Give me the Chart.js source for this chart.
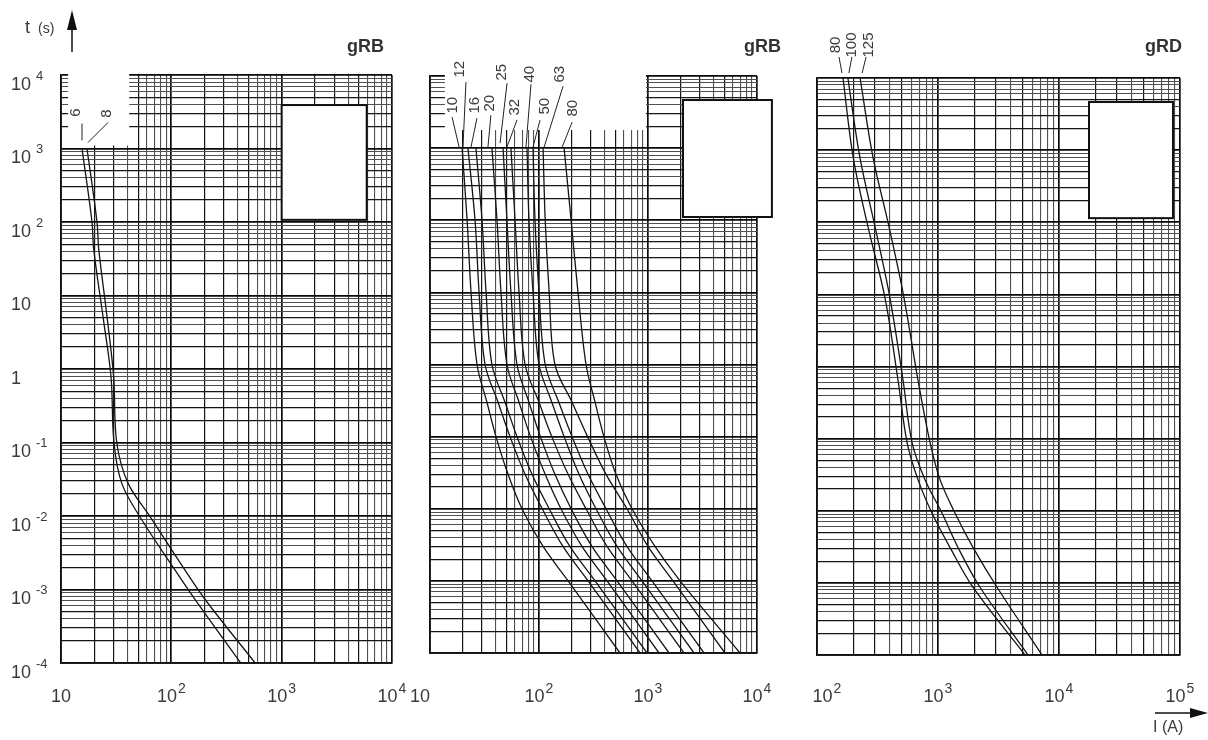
<!DOCTYPE html>
<html><head><meta charset="utf-8">
<script src="https://cdn.jsdelivr.net/npm/chart.js@4/dist/chart.umd.min.js"></script>
<style>
html,body{margin:0;padding:0;background:#fff;}
#wrap{position:relative;width:1208px;height:740px;overflow:hidden;background:#fff;}
#wrap canvas{position:absolute;left:0;top:0;}
</style></head><body>
<div id="wrap">
<canvas id="c1" width="1208" height="740"></canvas>
<canvas id="c2" width="1208" height="740"></canvas>
<canvas id="c3" width="1208" height="740"></canvas>
</div>
<script>
// ---------- DATA (current in A, time in s) ----------
const yTickValues = [10000, 1000, 100, 10, 1, 0.1, 0.01, 0.001, 0.0001];
const p1XTickValues = [10, 100, 1000, 10000];
const p2XTickValues = [10, 100, 1000, 10000];
const p3XTickValues = [100, 1000, 10000, 100000];

// panel 1 : gRB 6 A, 8 A
const p1Times = [1000, 100, 42, 5, 0.78, 0.1, 0.028, 0.0097, 0.002, 0.00072, 0.0001];
const p1Names = ['6', '8'];
const gRB_6  = [15.5, 19.1, 19.8, 24.1, 28.4, 30.2, 35.5, 52, 104, 165, 425];
const gRB_8  = [17.2, 21.2, 22.0, 26.2, 30.0, 32.0, 40.5, 64.4, 128, 204, 575];

// panel 2 : gRB 10 ... 80 A
const p2Times = [1000, 100, 10, 1, 0.3, 0.1, 0.03, 0.01, 0.003, 0.001, 0.0001];
const p2Names = ['10', '12', '16', '20', '25', '32', '40', '50', '63', '80'];
const gRB_10 = [19.7, 21.9, 23.8, 27.0, 33.3, 40.3, 52.0, 69.8, 109, 185, 553];
const gRB_12 = [22.3, 25.9, 28.2, 32.0, 42.1, 54.2, 74.5, 107, 166, 282, 845];
const gRB_16 = [26.4, 30.0, 32.7, 37.0, 48.8, 62.8, 86.3, 124, 192, 327, 979];
const gRB_20 = [37.0, 41.2, 44.8, 50.8, 65.6, 83.6, 114, 159, 248, 421, 1262];
const gRB_25 = [46.8, 50.8, 55.3, 62.8, 80.9, 103, 140, 197, 306, 520, 1560];
const gRB_32 = [55.3, 60.3, 65.6, 74.5, 100, 131, 185, 270, 421, 713, 2138];
const gRB_40 = [77.6, 80.9, 88.1, 100, 131, 170, 233, 333, 520, 881, 2642];
const gRB_50 = [88.1, 91.9, 100, 114, 152, 201, 282, 412, 641, 1089, 3266];
const gRB_63 = [109, 114, 124, 140, 201, 279, 412, 641, 1000, 1694, 5083];
const gRB_80 = [170, 197, 228, 270, 327, 394, 508, 713, 1159, 1968, 6982];

// panel 3 : gRD 80, 100, 125 A
const p3Times = [10000, 800, 86, 8.9, 0.65, 0.089, 0.027, 0.0093, 0.0031, 0.00087, 0.0001];
const p3Names = ['80', '100', '125'];
const gRD_80  = [164, 199, 264, 365, 467, 555, 683, 891, 1256, 1945, 5236];
const gRD_100 = [180, 226, 302, 401, 514, 610, 781, 1079, 1463, 2224, 5546];
const gRD_125 = [227, 290, 394, 524, 683, 859, 1040, 1381, 1945, 3074, 7244];

// ---------- helpers ----------
const TXT = '#3a3a3a';
const FONT = '"Liberation Sans", Arial, sans-serif';

function decadeTicks(min, max) {
  const out = [];
  const e0 = Math.floor(Math.log10(min) + 1e-9), e1 = Math.ceil(Math.log10(max) - 1e-9);
  for (let e = e0; e <= e1; e++) {
    for (let m = 1; m <= 9; m++) {
      const v = parseFloat((m * Math.pow(10, e)).toPrecision(10));
      if (v >= min * 0.9999 && v <= max * 1.0001) out.push(v);
    }
  }
  return out;
}
function sig(v) {
  const e = Math.floor(Math.log10(v) + 1e-9);
  return Math.round(v / Math.pow(10, e));
}
function gridColor(ctx) {
  if (!ctx.tick) return '#222';
  const m = sig(ctx.tick.value);
  if (m === 1) return '#0a0a0a';
  if (m === 2 || m === 3 || m === 5) return '#151515';
  return '#505050';
}
function gridWidth(ctx) {
  if (!ctx.tick) return 1;
  const m = sig(ctx.tick.value);
  return m === 1 ? 1.7 : (m === 2 || m === 3 || m === 5) ? 1.2 : 1.1;
}
function logAxis(min, max) {
  return {
    type: 'logarithmic', min: min, max: max,
    border: { display: true, color: '#111', width: 1.7 },
    grid: { drawTicks: false, color: gridColor, lineWidth: gridWidth },
    ticks: { display: false, autoSkip: false },
    afterBuildTicks: function (axis) { axis.ticks = decadeTicks(min, max).map(v => ({ value: v })); }
  };
}
function drawPow(ctx, v, x, y, align, gap, mainSize, supSize, rise) {
  const e = Math.round(Math.log10(v));
  ctx.fillStyle = TXT;
  ctx.textBaseline = 'middle';
  ctx.textAlign = 'left';
  ctx.font = mainSize + 'px ' + FONT;
  if (e === 0 || e === 1) {
    const s = e === 0 ? '1' : '10';
    const w = ctx.measureText(s).width;
    const x0 = align === 'center' ? x - w / 2 : x;
    ctx.fillText(s, x0, y);
    return;
  }
  const wb = ctx.measureText('10').width;
  ctx.font = supSize + 'px ' + FONT;
  const es = String(e);
  const we = ctx.measureText(es).width;
  const total = wb + gap + we;
  const x0 = align === 'center' ? x - total / 2 : x;
  ctx.font = mainSize + 'px ' + FONT;
  ctx.fillText('10', x0, y);
  ctx.font = supSize + 'px ' + FONT;
  ctx.fillText(es, x0 + wb + gap, y - rise);
}

function makePanel(id, geom, xMin, xMax, times, names, series, deco) {
  const datasets = series.map((vals, k) => ({
    label: names[k],
    data: vals.map((v, i) => ({ x: v, y: times[i] })),
    borderColor: '#151515', borderWidth: 1.3, pointRadius: 0, fill: false,
    tension: 0.35
  }));
  const decoPlugin = {
    id: 'deco_' + id,
    beforeDatasetsDraw(chart) {
      const c = chart.ctx, xs = chart.scales.x, ys = chart.scales.y;
      c.save();
      (deco.blanks || []).forEach(b => {
        const x1 = xs.getPixelForValue(b.x0), x2 = xs.getPixelForValue(b.x1);
        const y1 = ys.getPixelForValue(b.y0), y2 = ys.getPixelForValue(b.y1);
        c.fillStyle = '#fff';
        c.fillRect(x1, y1, x2 - x1, y2 - y1);
        if (b.border) {
          c.strokeStyle = '#111'; c.lineWidth = 2;
          c.strokeRect(x1, y1, x2 - x1, y2 - y1);
        }
      });
      c.restore();
    },
    afterDraw(chart) {
      const c = chart.ctx, xs = chart.scales.x, ys = chart.scales.y;
      c.save();
      deco.xTicks.forEach(v => drawPow(c, v, xs.getPixelForValue(v) + (deco.xShift || 0) * (v === xMin ? 1 : 0), 697, 'center', 1, 18, 14, 8));
      if (deco.yTicks) deco.yTicks.forEach(v => drawPow(c, v, 11, ys.getPixelForValue(v) + 10, 'left', 5, 18, 13, 9));
      c.fillStyle = '#333'; c.font = 'bold 18px ' + FONT; c.textAlign = 'right'; c.textBaseline = 'middle';
      c.fillText(deco.title, deco.titleX, 47);
      c.strokeStyle = '#222'; c.lineWidth = 1;
      c.font = '15px ' + FONT; c.fillStyle = TXT;
      deco.labels.forEach((L, k) => {
        const p = chart.getDatasetMeta(k).data[0];
        c.beginPath();
        c.moveTo(p.x + L[0], p.y + L[1]);
        c.lineTo(p.x + L[2], p.y + L[3]);
        c.stroke();
        c.save();
        c.translate(p.x + L[4], p.y + L[5]);
        c.rotate(-Math.PI / 2);
        c.textAlign = 'center'; c.textBaseline = 'middle';
        c.fillText(names[k], 0, 0);
        c.restore();
      });
      if (deco.extra) deco.extra(c);
      c.restore();
    }
  };
  return new Chart(document.getElementById(id), {
    type: 'line',
    data: { datasets: datasets },
    options: {
      responsive: false, animation: false, devicePixelRatio: 1, events: [],
      layout: { padding: { left: geom.l, top: geom.t, right: 1208 - geom.r, bottom: 740 - geom.b } },
      plugins: { legend: { display: false }, tooltip: { enabled: false } },
      scales: { x: logAxis(xMin, xMax), y: logAxis(0.0001, 10000) }
    },
    plugins: [decoPlugin]
  });
}

// ---------- panel 1 ----------
makePanel('c1', { l: 61, t: 75, r: 392, b: 663 }, 10, 10000, p1Times, p1Names, [gRB_6, gRB_8], {
  xTicks: p1XTickValues, yTicks: yTickValues, title: 'gRB', titleX: 384,
  blanks: [
    { x0: 11.6, x1: 41.5, y0: 11500, y1: 1100, border: false },
    { x0: 1000, x1: 5900, y0: 3900, y1: 107, border: true }
  ],
  labels: [
    [0, -25, 0, -8, -6, -36],
    [21, -26, 1, -6, 20, -35]
  ],
  extra: function (c) {
    c.fillStyle = TXT; c.textBaseline = 'middle'; c.textAlign = 'left';
    c.font = '18px ' + FONT; c.fillText('t', 25, 28);
    c.font = '14px ' + FONT; c.fillText('(s)', 38, 29);
    c.strokeStyle = '#111'; c.lineWidth = 1.5;
    c.beginPath(); c.moveTo(72, 52); c.lineTo(72, 24); c.stroke();
    c.fillStyle = '#111';
    c.beginPath(); c.moveTo(72, 10); c.lineTo(67, 30); c.lineTo(77, 30); c.closePath(); c.fill();
  }
});

// ---------- panel 2 ----------
makePanel('c2', { l: 430, t: 76, r: 757, b: 653 }, 10, 10000, p2Times, p2Names,
  [gRB_10, gRB_12, gRB_16, gRB_20, gRB_25, gRB_32, gRB_40, gRB_50, gRB_63, gRB_80], {
  xTicks: p2XTickValues, xShift: -10, title: 'gRB', titleX: 781,
  blanks: [
    { x0: 13.7, x1: 959, y0: 11500, y1: 1782, border: false },
    { x0: 2094, x1: 13700, y0: 4645, y1: 111, border: true }
  ],
  labels: [
    [-10, -31, -3, -1, -9, -43],
    [-2, -66, -5, -1, -8, -79],
    [1, -30, -5, -1, -1, -43],
    [-1, -33, -4, -1, -2, -45],
    [4, -65, -3, -5, -1, -76],
    [6, -28, -4, -1, 4, -41],
    [4, -64, -1, -1, 3, -74],
    [7, -28, 0, -1, 12, -42],
    [20, -62, 1, -1, 17, -74],
    [8, -26, -2, -1, 9, -40]
  ]
});

// ---------- panel 3 ----------
makePanel('c3', { l: 817, t: 78, r: 1180, b: 655 }, 100, 100000, p3Times, p3Names, [gRD_80, gRD_100, gRD_125], {
  xTicks: p3XTickValues, xShift: 10, title: 'gRD', titleX: 1182,
  blanks: [
    { x0: 17700, x1: 87500, y0: 4645, y1: 114, border: true }
  ],
  labels: [
    [-4, -21, -1, -5, -7, -33],
    [4, -21, 1, -5, 4, -33],
    [6, -21, 2, -5, 9, -33]
  ],
  extra: function (c) {
    c.strokeStyle = '#111'; c.lineWidth = 1.5;
    c.beginPath(); c.moveTo(1155, 713); c.lineTo(1195, 713); c.stroke();
    c.fillStyle = '#111';
    c.beginPath(); c.moveTo(1208, 713); c.lineTo(1190, 708); c.lineTo(1190, 718); c.closePath(); c.fill();
    c.fillStyle = TXT; c.font = '16px ' + FONT; c.textAlign = 'left'; c.textBaseline = 'middle';
    c.fillText('I (A)', 1153, 728);
  }
});
</script>
</body></html>
